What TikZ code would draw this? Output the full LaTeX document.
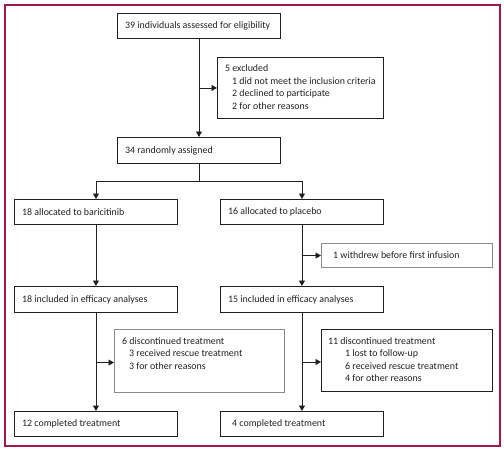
\documentclass[tikz,border=0pt]{standalone}
\usepackage{fontspec}
\setmainfont{Carlito}
\usetikzlibrary{arrows.meta}
\definecolor{frame}{HTML}{A3174A}
\definecolor{ink}{HTML}{231F20}
\definecolor{graybox}{HTML}{8A8A8A}
\begin{document}
\begin{tikzpicture}[x=1pt,y=-1pt,
  box/.style={draw=ink,line width=0.9pt,anchor=north west,inner sep=0pt},
  gbox/.style={box,draw=graybox,line width=1.1pt},
  txt/.style={inner sep=0pt,text=ink,font=\fontsize{9.9}{12.6}\selectfont,align=left},
  conn/.style={draw=ink,line width=0.9pt},
  arr/.style={conn,-{Triangle[length=5.5pt,width=6pt]}}]
\useasboundingbox (0,0) rectangle (504,450);
\draw[frame,line width=1.2pt] (5,5) rectangle (500,446);
% boxes
\node[box,minimum width=163pt,minimum height=25pt] (assess) at (117,13) {};
\node[box,minimum width=166pt,minimum height=61pt] (excl) at (217,57) {};
\node[box,minimum width=163pt,minimum height=26pt] (rand) at (117,137) {};
\node[box,minimum width=163pt,minimum height=25pt] (bari) at (14,199) {};
\node[box,minimum width=163pt,minimum height=25pt] (plac) at (220,199) {};
\node[gbox,minimum width=171pt,minimum height=24pt] (withd) at (321,243) {};
\node[box,minimum width=163pt,minimum height=26pt] (effb) at (14,286) {};
\node[box,minimum width=163pt,minimum height=26pt] (effp) at (220,286) {};
\node[gbox,minimum width=170pt,minimum height=63pt] (discb) at (114,329) {};
\node[box,minimum width=171pt,minimum height=62pt] (discp) at (321,329) {};
\node[box,minimum width=163pt,minimum height=25pt] (compb) at (14,411) {};
\node[box,minimum width=163pt,minimum height=25pt] (compp) at (220,411) {};
% texts
\node[txt,anchor=west] (t1) at ([xshift=8pt]assess.west) {39 individuals assessed for eligibility};
\node[txt,anchor=north west] (t2) at ([xshift=8pt,yshift=-7.5pt]excl.north west)
  {5 excluded\\\hspace{7pt}1 did not meet the inclusion criteria\\\hspace{7pt}2 declined to participate\\\hspace{7pt}2 for other reasons};
\node[txt,anchor=west] (t3) at ([xshift=8pt]rand.west) {34 randomly assigned};
\node[txt,anchor=west] (t4) at ([xshift=8pt]bari.west) {18 allocated to baricitinib};
\node[txt,anchor=west] (t5) at ([xshift=8pt]plac.west) {16 allocated to placebo};
\node[txt,anchor=west] (t6) at ([xshift=12pt]withd.west) {1 withdrew before first infusion};
\node[txt,anchor=west] (t7) at ([xshift=8pt]effb.west) {18 included in efficacy analyses};
\node[txt,anchor=west] (t8) at ([xshift=8pt]effp.west) {15 included in efficacy analyses};
\node[txt,anchor=north west] (t9) at ([xshift=8pt,yshift=-8pt]discb.north west)
  {6 discontinued treatment\\\hspace{7pt}3 received rescue treatment\\\hspace{7pt}3 for other reasons};
\node[txt,anchor=north west] (t10) at ([xshift=7pt,yshift=-8pt]discp.north west)
  {11 discontinued treatment\\\hspace{17pt}1 lost to follow-up\\\hspace{17pt}6 received rescue treatment\\\hspace{17pt}4 for other reasons};
\node[txt,anchor=west] (t11) at ([xshift=8pt]compb.west) {12 completed treatment};
\node[txt,anchor=west] (t12) at ([xshift=12pt]compp.west) {4 completed treatment};
% connectors
\coordinate (j1) at (assess.south |- excl.west);
\draw[arr] (assess.south) -- (rand.north);
\draw[arr] (j1) -- (excl.west);
\coordinate (split) at ([yshift=-18pt]rand.south);
\draw[conn] (rand.south) -- (split);
\draw[arr] (split) -| (bari.north);
\draw[arr] (split) -| (plac.north);
\draw[arr] (bari.south) -- (effb.north);
\draw[arr] (plac.south) -- (effp.north);
\coordinate (j2) at (plac.south |- withd.west);
\draw[arr] (j2) -- (withd.west);
\draw[arr] (effb.south) -- (compb.north);
\draw[arr] (effp.south) -- (compp.north);
\coordinate (j3) at ([yshift=-1.5pt]effb.south |- discb.west);
\draw[arr] (j3) -- (j3 -| discb.west);
\coordinate (j4) at ([yshift=-1.5pt]effp.south |- discp.west);
\draw[arr] (j4) -- (j4 -| discp.west);
\end{tikzpicture}
\end{document}
